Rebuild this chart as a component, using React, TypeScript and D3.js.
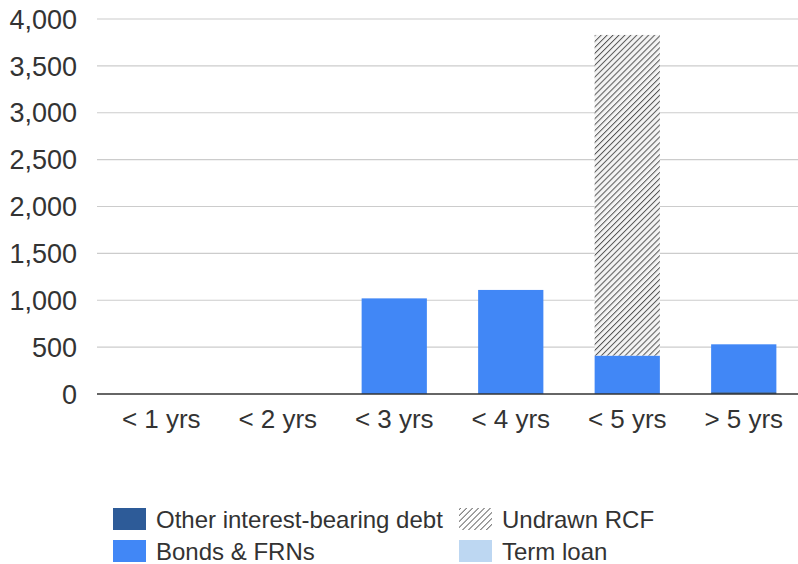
import React from "react";
import * as d3 from "d3";

// Maturity buckets
const categories = ["< 1 yrs", "< 2 yrs", "< 3 yrs", "< 4 yrs", "< 5 yrs", "> 5 yrs"];

// Stacked series values (EUR m) per maturity bucket
const otherDebt = [0, 0, 0, 0, 0, 20];
const bondsFrns = [0, 0, 1020, 1110, 410, 510];
const termLoan = [0, 0, 0, 0, 0, 0];
const undrawnRcf = [0, 0, 0, 0, 3420, 0];

const yTicks = [0, 500, 1000, 1500, 2000, 2500, 3000, 3500, 4000];

const seriesNames = ["Other interest-bearing debt", "Bonds & FRNs", "Term loan", "Undrawn RCF"];

const W = 798;
const H = 564;
const FONT = "'Liberation Sans', Arial, sans-serif";

export default function App() {
  const x = d3
    .scaleBand<string>()
    .domain(categories)
    .range([103, 802])
    .paddingInner(0.44)
    .paddingOuter(0.22);
  const y = d3.scaleLinear().domain([0, 4000]).range([394, 19]);

  const rows = categories.map((c, i) => ({
    cat: c,
    other: otherDebt[i],
    bonds: bondsFrns[i],
    term: termLoan[i],
    rcf: undrawnRcf[i],
  }));
  const stack = d3.stack<any>().keys(["other", "bonds", "term", "rcf"]);
  const layers = stack(rows);
  const fills: Record<string, string> = {
    other: "#2d5b98",
    bonds: "#4187f6",
    term: "#bdd7f2",
    rcf: "url(#hatch)",
  };
  const fmt = d3.format(",");

  const legend = [
    { name: seriesNames[0], fill: fills.other, x: 113, y: 508 },
    { name: seriesNames[3], fill: "url(#hatchLegend)", x: 459, y: 508 },
    { name: seriesNames[1], fill: fills.bonds, x: 113, y: 540 },
    { name: seriesNames[2], fill: fills.term, x: 459, y: 540 },
  ];

  return (
    <svg
      width={W}
      height={H}
      style={{ position: "absolute", left: 0, top: 0, background: "#fff" }}
      fontFamily={FONT}
    >
      <defs>
        <pattern id="hatch" patternUnits="userSpaceOnUse" width="4.2" height="4.2" patternTransform="rotate(45)">
          <rect width="4.2" height="4.2" fill="#f4f4f4" />
          <line x1="0" y1="0" x2="0" y2="4.2" stroke="#555" strokeWidth="2" />
        </pattern>
        <pattern id="hatchLegend" patternUnits="userSpaceOnUse" width="4.2" height="4.2" patternTransform="rotate(45)">
          <rect width="4.2" height="4.2" fill="#fff" />
          <line x1="0" y1="0" x2="0" y2="4.2" stroke="#555" strokeWidth="1.6" />
        </pattern>
      </defs>

      {/* gridlines and y tick labels */}
      {yTicks.map((t) => (
        <g key={t}>
          {t !== 0 && <line x1={97} x2={798} y1={y(t)} y2={y(t)} stroke="#cccccc" strokeWidth={1.2} />}
          <text x={77} y={y(t)} dy="0.36em" textAnchor="end" fontSize={27} fill="#333">
            {fmt(t)}
          </text>
        </g>
      ))}

      {/* stacked bars */}
      {layers.map((layer) => (
        <g key={layer.key} fill={fills[layer.key]}>
          {layer.map((d, i) =>
            d[1] - d[0] > 0 ? (
              <rect
                key={i}
                x={x(categories[i])}
                width={x.bandwidth()}
                y={y(d[1])}
                height={y(d[0]) - y(d[1])}
              />
            ) : null
          )}
        </g>
      ))}

      {/* baseline */}
      <line x1={97} x2={798} y1={y(0)} y2={y(0)} stroke="#333" strokeWidth={1.6} />

      {/* x labels */}
      {categories.map((c) => (
        <text
          key={c}
          x={(x(c) as number) + x.bandwidth() / 2}
          y={428}
          textAnchor="middle"
          fontSize={26}
          fill="#333"
        >
          {c}
        </text>
      ))}

      {/* legend */}
      {legend.map((l) => (
        <g key={l.name}>
          <rect x={l.x} y={l.y} width={33} height={22} fill={l.fill} />
          <text x={l.x + 43} y={l.y + 20} fontSize={24} fill="#333">
            {l.name}
          </text>
        </g>
      ))}
    </svg>
  );
}
